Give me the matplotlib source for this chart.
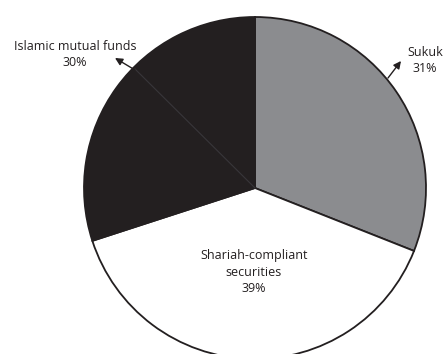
import matplotlib
matplotlib.use("Agg")
import matplotlib.pyplot as plt

labels = ["Sukuk", "Shariah-compliant\nsecurities", "Islamic mutual funds"]
shares = [31, 39, 30]
colors = ["#8b8c8f", "#ffffff", "#231f20"]

W, H = 443, 354
cx, cy, r = 255, H - 188, 171

fig = plt.figure(figsize=(W / 100, H / 100), dpi=100)
ax = fig.add_axes([0, 0, 1, 1])

ax.pie(shares, colors=colors, startangle=90, counterclock=False,
       center=(cx, cy), radius=r, frame=True,
       wedgeprops=dict(edgecolor="#231f20", linewidth=1.3))
ax.set_xlim(0, W)
ax.set_ylim(0, H)
ax.set_aspect("equal")
ax.axis("off")

txt = dict(fontsize=9, color="#231f20", family="Open Sans", ha="center", va="center",
           linespacing=1.3)

# faint leader inside the dark wedge
ax.plot([255, 135], [H - 188, H - 69], color="#38363a", lw=0.8, zorder=3)

# Islamic mutual funds
ax.annotate("", xy=(115, H - 58), xytext=(135, H - 70),
            arrowprops=dict(arrowstyle="-|>", color="#231f20", lw=1.0,
                            mutation_scale=11, shrinkA=0, shrinkB=0))
ax.text(75, H - 55, f"{labels[2]}\n{shares[2]}%", **txt)

# Sukuk
ax.annotate("", xy=(401, H - 61), xytext=(388, H - 78),
            arrowprops=dict(arrowstyle="-|>", color="#231f20", lw=1.0,
                            mutation_scale=11, shrinkA=0, shrinkB=0))
ax.text(425, H - 60, f"{labels[0]}\n{shares[0]}%", **txt)

# Shariah-compliant securities
ax.text(254, H - 272, f"{labels[1]}\n{shares[1]}%", **txt)

fig.savefig("out.png", dpi=100)
